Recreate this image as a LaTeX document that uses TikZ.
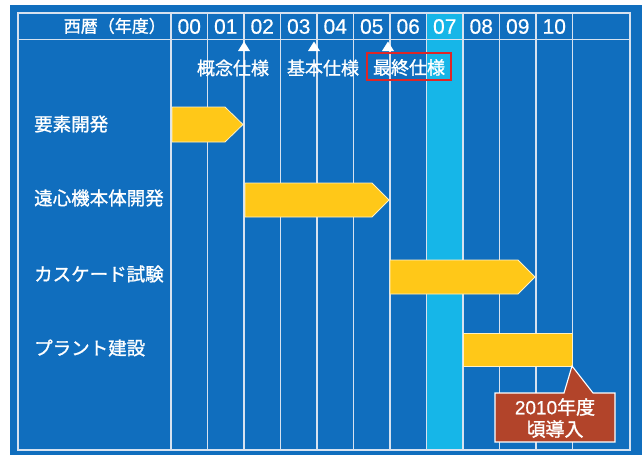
\documentclass[tikz,border=0pt]{standalone}
\usepackage{fontspec}
\setmainfont[FakeBold=1.2]{Noto Sans CJK JP}
\newfontfamily\digitfont[FakeBold=0.6]{Liberation Sans}
\definecolor{bgblue}{RGB}{16,110,190}
\definecolor{cyanc}{RGB}{22,182,232}
\definecolor{gridc}{RGB}{214,226,240}
\definecolor{baryel}{RGB}{255,200,24}
\definecolor{callred}{RGB}{178,68,42}
\definecolor{boxred}{RGB}{222,38,38}
\tikzset{
  gridline/.style={draw=gridc, line width=1.3pt},
  yeartxt/.style={text=white, font=\digitfont\fontsize{21}{23}\selectfont, inner sep=0pt},
  hdrtxt/.style={text=white, font=\fontsize{17}{19}\selectfont, inner sep=0pt},
  mstxt/.style={text=white, font=\fontsize{18}{20}\selectfont, inner sep=0pt},
  rowtxt/.style={text=white, font=\fontsize{18.5}{21}\selectfont, inner sep=0pt, anchor=west},
  bar/.style={fill=baryel, draw=white!75!baryel, line width=0.8pt},
  marker/.style={fill=white},
  calltxt/.style={text=white, font=\fontsize{19}{22}\selectfont, align=center, inner sep=0pt},
}
\begin{document}
\begin{tikzpicture}[x=1pt, y=-1pt]
\useasboundingbox (0,0) rectangle (642,455);
% background
\fill[white] (0,0) rectangle (642,455);
\fill[bgblue] (10,5) rectangle (642,455);
\fill[cyanc] (426.5,13) rectangle (463,450);
% grid
\foreach \i in {0,...,11} {
  \draw[gridline] ({171+36.5*\i},13) -- ({171+36.5*\i},450);
}
\draw[gridline] (18,13) rectangle (630,450);
\draw[gridline] (18,39.5) -- (630,39.5);
% header
\node[hdrtxt, anchor=east] (hdr) at (166,26) {西暦（年度）};
\foreach \y [count=\i from 0] in {00,01,02,03,04,05,06,07,08,09,10} {
  \node[yeartxt] (y\y) at ({171+36.5*(\i+0.5)},26.5) {\y};
}
% milestones
\fill[marker] (244,41.5) -- (238,51) -- (250,51) -- cycle;
\fill[marker] (314,41.5) -- (308,51) -- (320,51) -- cycle;
\fill[marker] (388,41.5) -- (382,51) -- (394,51) -- cycle;
\node[mstxt] (m1) at (233,68) {概念仕様};
\node[mstxt] (m2) at (323,68) {基本仕様};
\node[mstxt] (m3) at (409,67.5) {最終仕様};
\draw[boxred, line width=2pt] (367,53) rectangle (451,80);
% row labels
\node[rowtxt] (r1) at (34,124) {要素開発};
\node[rowtxt] (r2) at (34,198) {遠心機本体開発};
\node[rowtxt] (r3) at (34,274) {カスケード試験};
\node[rowtxt] (r4) at (34,348) {プラント建設};
% bars
\draw[bar] (172,107) -- (225,107) -- (243,124.5) -- (225,142) -- (172,142) -- cycle;
\draw[bar] (245,183) -- (372,183) -- (389,200) -- (372,217) -- (245,217) -- cycle;
\draw[bar] (390,260) -- (518,260) -- (535,277) -- (518,294) -- (390,294) -- cycle;
\draw[bar] (463,333) rectangle (572,366);
\coordinate (b4) at (572,366);
% callout
\filldraw[fill=callred, draw=white, line width=1.1pt]
  (495,393) -- (564,393) -- (b4) -- (593,393) -- (615,393) -- (615,442) -- (495,442) -- cycle;
\node[calltxt] (call) at (555,418) {{\digitfont 2010}年度\\頃導入};
\end{tikzpicture}
\end{document}
